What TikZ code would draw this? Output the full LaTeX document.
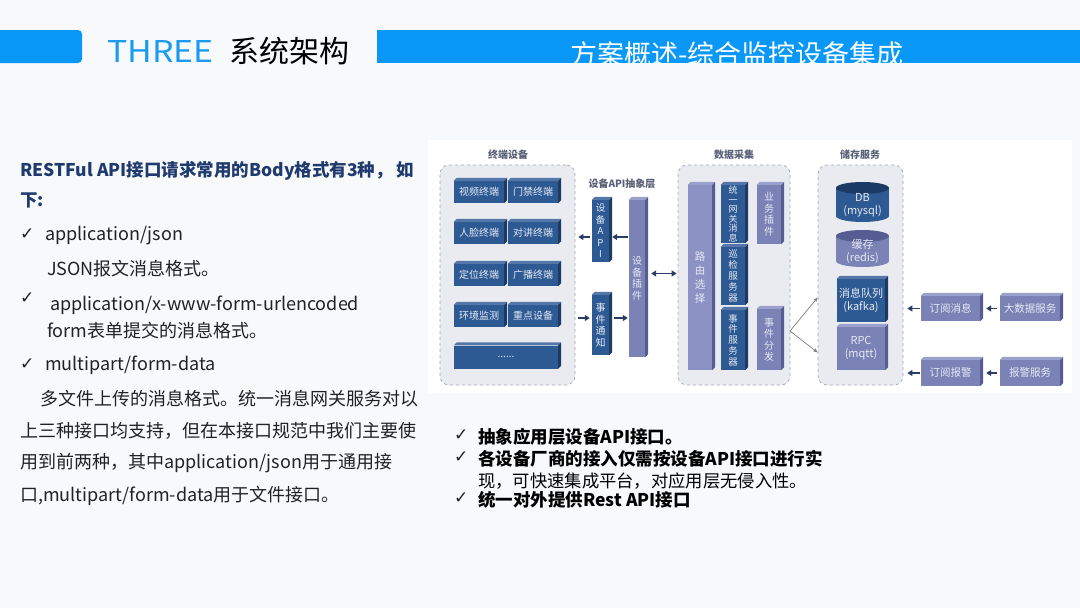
\documentclass[tikz,border=0pt]{standalone}
\usepackage{fontspec}
\setmainfont{Noto Sans CJK SC}
\newfontfamily\dvs{DejaVu Sans}
\usetikzlibrary{arrows.meta}
\definecolor{bg}{HTML}{F8F9FB}
\definecolor{hblue}{HTML}{0A98F8}
\definecolor{threeblue}{HTML}{1A9BEF}
\definecolor{navy}{HTML}{1E3A6E}
\definecolor{bodytxt}{HTML}{222222}
\definecolor{dkblue}{HTML}{2E5A94}
\definecolor{dktop}{HTML}{5576A8}
\definecolor{dkside}{HTML}{1C3A66}
\definecolor{purp}{HTML}{7A82B6}
\definecolor{purptop}{HTML}{9BA1CC}
\definecolor{purpside}{HTML}{565D92}
\definecolor{lpurp}{HTML}{8D92C4}
\definecolor{contfill}{HTML}{E9EBF1}
\definecolor{contborder}{HTML}{A4A8B6}
\definecolor{arrcol}{HTML}{2A3D62}
\definecolor{lbl}{HTML}{5A6078}
\definecolor{boxtxt}{HTML}{E6EAF4}
\newcommand\ext[3]{%
  \fill[#2] (#1.north west) -- ++(3,-3) -- ([shift={(3,-3)}]#1.north east) -- (#1.north east) -- cycle;
  \fill[#3] (#1.north east) -- ++(3,-3) -- ([shift={(3,-3)}]#1.south east) -- (#1.south east) -- cycle;}
\tikzset{
  body/.style={anchor=base west, inner sep=0pt, font=\fontsize{18}{18}\selectfont, text=bodytxt},
  ttl/.style={anchor=base west, inner sep=0pt, font=\fontsize{17.5}{17.5}\selectfont\bfseries, text=navy},
  chk/.style={anchor=base west, inner sep=0pt, font=\dvs\bfseries\fontsize{17}{17}\selectfont, text=bodytxt},
  bot/.style={anchor=base west, inner sep=0pt, font=\fontsize{17.5}{17.5}\selectfont\bfseries, text=black},
  botr/.style={anchor=base west, inner sep=0pt, font=\fontsize{17.3}{17.3}\selectfont, text=black},
  blk/.style={rectangle, inner sep=0pt, text=boxtxt, align=center, font=\fontsize{10}{11.5}\selectfont},
  dkb/.style={blk, fill=dkblue},
  prb/.style={blk, fill=purp},
  lpb/.style={blk, fill=lpurp},
  cont/.style={draw=contborder, dashed, fill=contfill, rounded corners=9pt, line width=0.7pt, inner sep=0pt},
  grp/.style={text=lbl, font=\fontsize{10}{10}\selectfont\bfseries, inner sep=0pt},
  arr/.style={-{Triangle[length=5pt,width=6pt]}, line width=1.8pt, draw=arrcol},
  thin/.style={-{Stealth[length=5pt,width=4pt]}, line width=0.7pt, draw=gray},
}
\begin{document}
\begin{tikzpicture}[x=1pt,y=-1pt]
\fill[bg] (0,0) rectangle (1080,608);
\useasboundingbox (0,0) rectangle (1080,608);
% header
\node[fill=hblue, rounded corners=4pt, minimum width=92, minimum height=33, inner sep=0pt] (lbar) at (36,46.5) {};
\node[anchor=base west, inner sep=0pt, text=threeblue, font=\fontsize{30}{30}\selectfont, xscale=1.13] (three) at (107,62) {THREE};
\node[anchor=base west, inner sep=0pt, text=black, font=\fontsize{30}{30}\selectfont] (sys) at (229,62) {系统架构};
\node[fill=hblue, minimum width=703, minimum height=33, inner sep=0pt] (rbar) at (728.5,46.5) {};
\begin{scope}
\clip (377,30) rectangle (1080,63);
\node[anchor=base west, inner sep=0pt, text=white, font=\fontsize{27}{27}\selectfont] (htitle) at (570,64) {方案概述-综合监控设备集成};
\end{scope}
% left text
\node[ttl] (t1) at (20,176) {RESTFul API接口请求常用的Body格式有3种， 如};
\node[ttl] (t2) at (20,206) {下:};
\node[chk] (c1) at (20,239) {✓};
\node[body] (l1) at (45,240) {application/json};
\node[body] (l2) at (47,275) {JSON报文消息格式。};
\node[chk] (c2) at (20,303) {✓};
\node[body] (l3) at (50,310) {application/x-www-form-urlencoded};
\node[chk] (c3) at (20,369) {✓};
\node[body] (l4) at (47,337) {form表单提交的消息格式。};
\node[body] (l5) at (45,370) {multipart/form-data};
\node[body] (l6) at (40,405) {多文件上传的消息格式。统一消息网关服务对以};
\node[body] (l7) at (20,437) {上三种接口均支持，但在本接口规范中我们主要使};
\node[body] (l8) at (20,468) {用到前两种，其中application/json用于通用接};
\node[body] (l9) at (20,501) {口,multipart/form-data用于文件接口。};
% bottom right
\node[chk] (c4) at (454,440) {✓};
\node[bot] (b1) at (478,443) {抽象应用层设备API接口。};
\node[chk] (c5) at (454,462) {✓};
\node[bot] (b2) at (478,465) {各设备厂商的接入仅需按设备API接口进行实};
\node[botr] (b3) at (478,487) {现，可快速集成平台，对应用层无侵入性。};
\node[chk] (c6) at (454,503) {✓};
\node[bot] (b4) at (478,506) {统一对外提供Rest API接口};
% diagram panel
\node[fill=white, minimum width=644, minimum height=253, inner sep=0pt] (panel) at (750,266.5) {};
% containers
\node[cont, minimum width=135, minimum height=220] (term) at (507.5,275) {};
\node[cont, minimum width=112, minimum height=220] (data) at (734,275) {};
\node[cont, minimum width=85, minimum height=220] (store) at (860.5,275) {};
\node[grp] (gterm) at (508,155) {终端设备};
\node[grp] (gapi) at (622,184) {设备API抽象层};
\node[grp] (gdata) at (734,155) {数据采集};
\node[grp] (gstore) at (860,155) {储存服务};
% terminal boxes
\foreach \n/\x/\y/\t in {v/479/192/视频终端, m/533/192/门禁终端, f/479/233/人脸终端, d/533/233/对讲终端,
  p/479/275/定位终端, g/533/275/广播终端, e/479/316/环境监测, k/533/316/重点设备}{
  \node[dkb, minimum width=50, minimum height=22] (\n) at (\x,\y) {\t};
  \ext{\n}{dktop}{dkside}
}
\node[dkb, minimum width=104, minimum height=23] (more) at (506,357) {......};
\ext{more}{dktop}{dkside}
% API layer
\node[dkb, minimum width=17, minimum height=62, font=\fontsize{9.5}{11.5}\selectfont] (api) at (600.5,231) {设\\备\\A\\P\\I};
\ext{api}{dktop}{dkside}
\node[dkb, minimum width=17, minimum height=60] (evn) at (600.5,325) {事\\件\\通\\知};
\ext{evn}{dktop}{dkside}
\node[prb, minimum width=16, minimum height=157] (plug) at (637,278.5) {设\\备\\插\\件};
\ext{plug}{purptop}{purpside}
% data collection
\node[lpb, minimum width=24, minimum height=185, font=\fontsize{10.5}{14}\selectfont] (route) at (700,277.5) {路\\由\\选\\择};
\ext{route}{purptop}{purpside}
\node[dkb, minimum width=24, minimum height=58, font=\fontsize{9}{9.6}\selectfont] (gw) at (733,214) {统\\一\\网\\关\\消\\息};
\ext{gw}{dktop}{dkside}
\node[dkb, minimum width=24, minimum height=58, font=\fontsize{9.5}{10.8}\selectfont] (insp) at (733,276) {巡\\检\\服\\务\\器};
\ext{insp}{dktop}{dkside}
\node[dkb, minimum width=24, minimum height=60, font=\fontsize{9.5}{10.8}\selectfont] (evs) at (733,340) {事\\件\\服\\务\\器};
\ext{evs}{dktop}{dkside}
\node[prb, minimum width=24, minimum height=59] (biz) at (769,214.5) {业\\务\\插\\件};
\ext{biz}{purptop}{purpside}
\node[prb, minimum width=24, minimum height=61] (dist) at (769,339.5) {事\\件\\分\\发};
\ext{dist}{purptop}{purpside}
% storage
\fill[dkblue] (836,188) rectangle (889,216);
\fill[dkblue] (862.5,216) ellipse [x radius=26.5, y radius=6];
\fill[dkside] (862.5,188) ellipse [x radius=26.5, y radius=6];
\node[blk, font=\fontsize{11}{13}\selectfont] (db) at (862.5,205) {DB\\(mysql)};
\fill[purp] (836,236) rectangle (889,261);
\fill[purp] (862.5,261) ellipse [x radius=26.5, y radius=6];
\fill[purpside] (862.5,236) ellipse [x radius=26.5, y radius=6];
\node[blk, font=\fontsize{11}{13}\selectfont] (cache) at (862.5,251) {缓存\\(redis)};
\node[dkb, minimum width=48, minimum height=43, font=\fontsize{11}{13}\selectfont] (kafka) at (861,300.5) {消息队列\\(kafka)};
\ext{kafka}{dktop}{dkside}
\node[prb, minimum width=48, minimum height=43, font=\fontsize{11}{13}\selectfont] (rpc) at (861,348.5) {RPC\\(mqtt)};
\ext{rpc}{purptop}{purpside}
% right boxes
\node[prb, minimum width=59, minimum height=25, font=\fontsize{10.5}{10.5}\selectfont] (sub1) at (950.5,308.5) {订阅消息};
\ext{sub1}{purptop}{purpside}
\node[prb, minimum width=60, minimum height=25, font=\fontsize{10.5}{10.5}\selectfont] (bigd) at (1030,308.5) {大数据服务};
\ext{bigd}{purptop}{purpside}
\node[prb, minimum width=59, minimum height=26, font=\fontsize{10.5}{10.5}\selectfont] (sub2) at (950.5,373) {订阅报警};
\ext{sub2}{purptop}{purpside}
\node[prb, minimum width=60, minimum height=26, font=\fontsize{10.5}{10.5}\selectfont] (alarm) at (1030,373) {报警服务};
\ext{alarm}{purptop}{purpside}
% arrows
\draw[arr, shorten <=2pt, shorten >=3pt] ([yshift=-6pt]api.west) -- ([yshift=-6pt]api.west -| term.east);
\draw[arr, shorten <=1pt, shorten >=3pt] ([yshift=-6pt]api.east -| plug.west) -- ([yshift=-6pt]api.east);
\draw[arr, shorten <=3pt, shorten >=2pt] ([yshift=7pt]evn.west -| term.east) -- ([yshift=7pt]evn.west);
\draw[arr, shorten <=5pt, shorten >=1pt] ([yshift=7pt]evn.east) -- ([yshift=7pt]evn.east -| plug.west);
\draw[arr, {Triangle[length=5pt,width=6pt]}-{Triangle[length=5pt,width=6pt]}, shorten <=6pt, shorten >=1pt] ([yshift=4pt]route.west -| plug.east) -- ([yshift=4pt]route.west -| data.west);
\coordinate (fan) at (790,331);
\draw[thin] (fan) -- ([yshift=3pt]kafka.west -| store.west);
\draw[thin] (fan) -- ([yshift=-4pt]rpc.west -| store.west);
\draw[arr, shorten <=1pt, shorten >=4pt] (sub1.west) -- (sub1.west -| store.east);
\draw[arr, shorten <=3pt, shorten >=6pt] (bigd.west) -- (sub1.east);
\draw[arr, shorten <=1pt, shorten >=4pt] (sub2.west) -- (sub2.west -| store.east);
\draw[arr, shorten <=3pt, shorten >=6pt] (alarm.west) -- (sub2.east);
\end{tikzpicture}
\end{document}
